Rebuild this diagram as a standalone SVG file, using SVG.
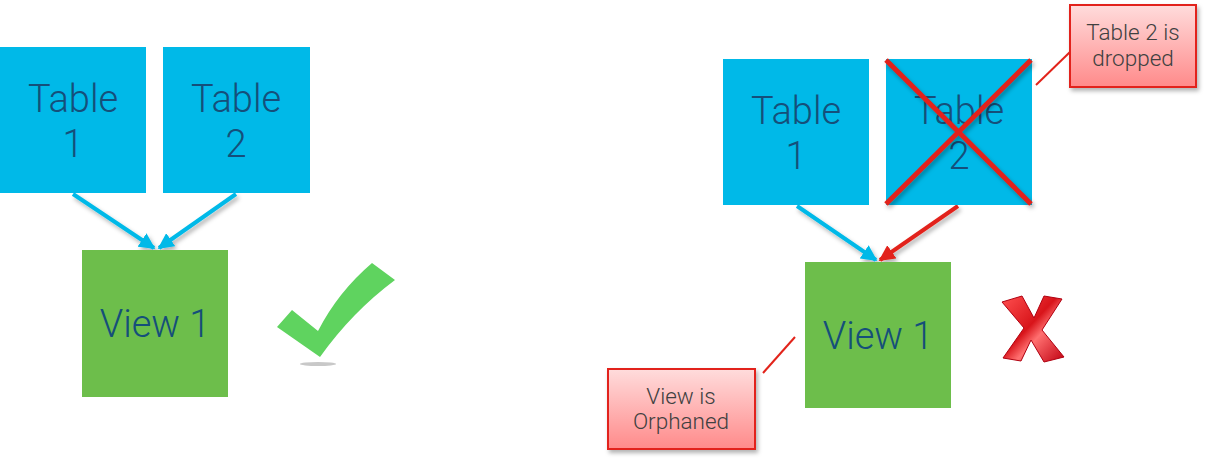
<svg xmlns="http://www.w3.org/2000/svg" width="1207" height="461" viewBox="0 0 1207 461">
<style>
.tbl{fill:#00B9E8}
.view{fill:#6DBE4B}
.lbl{font-family:Roboto,"Liberation Sans",sans-serif;font-weight:300;font-size:38px;fill:#154F7A;text-anchor:middle}
.note{font-family:Roboto,"Liberation Sans",sans-serif;font-weight:300;font-size:22.5px;fill:#404040;text-anchor:middle}
.blue{stroke:#00B9E8;stroke-width:4;fill:none}
.red{stroke:#E2231A;stroke-width:4;fill:none}
.lead{stroke:#E2231A;stroke-width:2;fill:none}
.callout{fill:url(#pink);stroke:#E2231A;stroke-width:2}
</style>
<defs>
<linearGradient id="pink" x1="0" y1="0" x2="0" y2="1">
<stop offset="0" stop-color="#FFDCDC"/>
<stop offset="1" stop-color="#FF8A8A"/>
</linearGradient>
<linearGradient id="xg" x1="0" y1="0" x2="1" y2="1">
<stop offset="0" stop-color="#FF5050"/>
<stop offset="0.45" stop-color="#D8141A"/>
<stop offset="0.6" stop-color="#FF7070"/>
<stop offset="1" stop-color="#C00010"/>
</linearGradient>
<filter id="sh" x="-20%" y="-20%" width="140%" height="140%">
<feDropShadow dx="2" dy="3" stdDeviation="2" flood-color="#000" flood-opacity="0.3"/>
</filter>
<marker id="ab" viewBox="0 0 10 10" refX="9" refY="5" markerWidth="4" markerHeight="4" orient="auto">
<path d="M0,0 L10,5 L0,10 Z" fill="#00B9E8"/>
</marker>
<marker id="ar" viewBox="0 0 10 10" refX="9" refY="5" markerWidth="4" markerHeight="4" orient="auto">
<path d="M0,0 L10,5 L0,10 Z" fill="#E2231A"/>
</marker>
</defs>

<g id="connectors">
<g filter="url(#sh)">
<line class="blue" x1="73" y1="194" x2="154" y2="248" marker-end="url(#ab)"/>
<line class="blue" x1="236" y1="194" x2="159" y2="248" marker-end="url(#ab)"/>
<line class="blue" x1="797" y1="206" x2="876" y2="260" marker-end="url(#ab)"/>
<line class="red" x1="958" y1="206" x2="880" y2="260" marker-end="url(#ar)"/>
</g>
<line class="lead" x1="1036" y1="85" x2="1070" y2="52"/>
<line class="lead" x1="763" y1="373" x2="795" y2="337"/>
</g>

<g id="left-table1">
<rect class="tbl" x="0" y="47" width="146" height="146"/>
<text class="lbl" x="73" y="112">Table</text>
<text class="lbl" x="73" y="157">1</text>
</g>
<g id="left-table2">
<rect class="tbl" x="163" y="47" width="147" height="146"/>
<text class="lbl" x="236" y="112">Table</text>
<text class="lbl" x="236" y="157">2</text>
</g>
<g id="left-view1">
<rect class="view" x="82" y="250" width="146" height="147"/>
<text class="lbl" x="155" y="337">View 1</text>
</g>
<g id="checkmark">
<ellipse cx="318" cy="364" rx="18" ry="2" fill="#C8C8C8"/>
<path d="M277,327 L292,310 L318,331 Q338,292 372,263 L395,280 Q352,312 320,357 Z" fill="#5FD35F"/>
</g>

<g id="right-table1">
<rect class="tbl" x="723" y="59" width="146" height="146"/>
<text class="lbl" x="796" y="124">Table</text>
<text class="lbl" x="796" y="169">1</text>
</g>
<g id="right-table2">
<rect class="tbl" x="886" y="59" width="146" height="146"/>
<text class="lbl" x="959" y="124">Table</text>
<text class="lbl" x="959" y="169">2</text>
<g filter="url(#sh)">
<line x1="886" y1="60" x2="1031" y2="204" stroke="#E2231A" stroke-width="5"/>
<line x1="1031" y1="60" x2="886" y2="204" stroke="#E2231A" stroke-width="5"/>
</g>
</g>
<g id="right-view1">
<rect class="view" x="805" y="262" width="146" height="146"/>
<text class="lbl" x="878" y="349">View 1</text>
</g>
<g id="xmark">
<path d="M1002,302 L1022,296 L1034,318 L1044,296 L1062,299 L1042,330 L1064,357 L1044,362 L1031,340 L1021,361 L1003,358 L1024,328 Z" fill="url(#xg)" stroke="#B00010" stroke-width="1"/>
</g>

<g id="note-dropped">
<rect class="callout" x="1070" y="5" width="126" height="82" filter="url(#sh)"/>
<text class="note" x="1133" y="40">Table 2 is</text>
<text class="note" x="1133" y="66">dropped</text>
</g>
<g id="note-orphaned">
<rect class="callout" x="608" y="369" width="147" height="80" filter="url(#sh)"/>
<text class="note" x="681" y="404">View is</text>
<text class="note" x="681" y="429">Orphaned</text>
</g>
</svg>
